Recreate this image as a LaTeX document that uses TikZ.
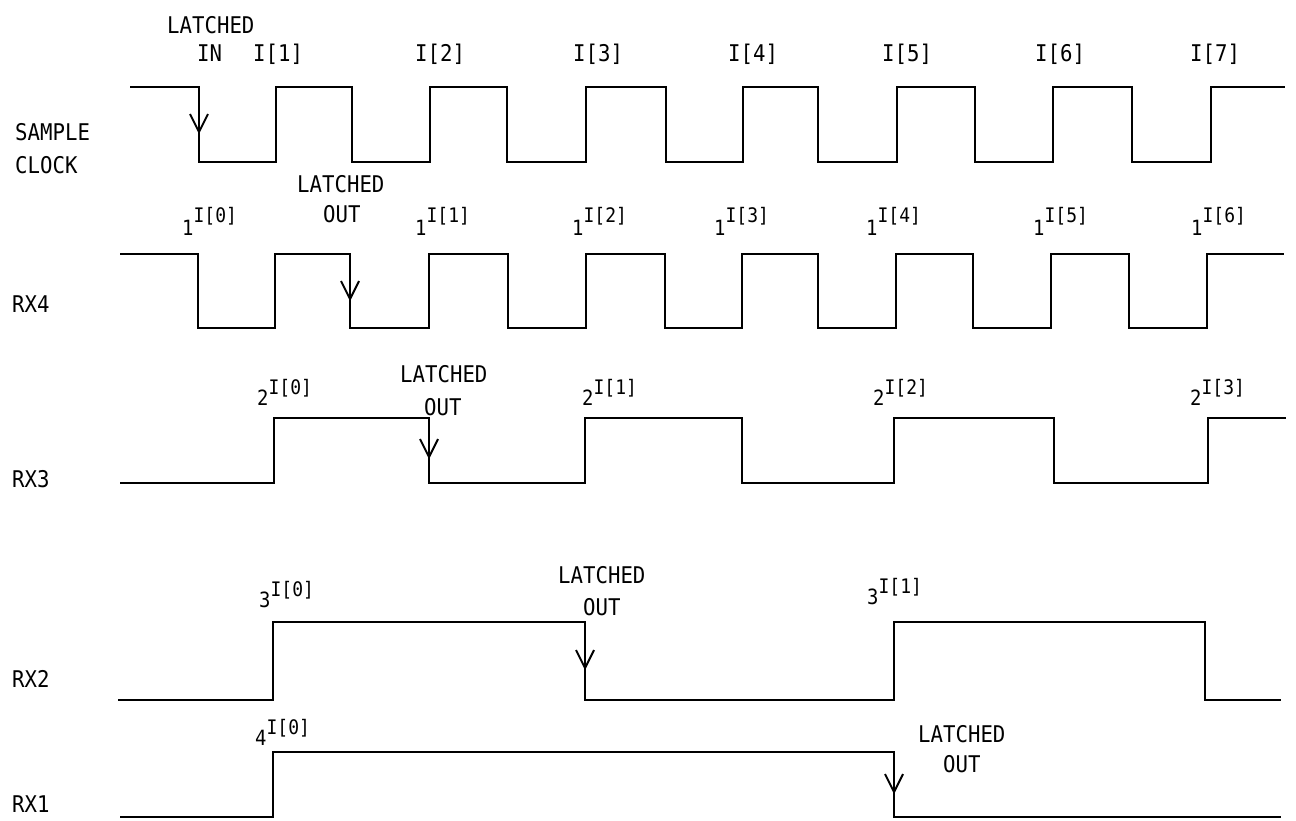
\documentclass[tikz,border=0pt]{standalone}
\usepackage{fontspec}
\setmainfont{DejaVu Sans Mono}[FakeStretch=0.9]
\newcommand\mysup[3][11pt]{#2\raisebox{#1}{\fontsize{20}{20}\selectfont #3}}
\begin{document}
\begin{tikzpicture}[x=1pt,y=-1pt,
  wave/.style={line width=2.3pt, line join=miter},
  clk/.style={line width=2.8pt, line join=miter},
  barb/.style={line width=2pt},
  lbl/.style={anchor=base west, inner sep=0pt, font=\fontsize{23}{23}\selectfont},
  exl/.style={anchor=base west, inner sep=0pt, font=\fontsize{21}{21}\selectfont}]
\useasboundingbox (0,0) rectangle (1296,820);
\fill[white] (0,0) rectangle (1296,820);

% ---- signal names
\node[lbl] (nSample) at (15,140) {SAMPLE};
\node[lbl] (nClock)  at (15,173) {CLOCK};
\node[lbl] (nRX4) at (12,312) {RX4};
\node[lbl] (nRX3) at (12,487) {RX3};
\node[lbl] (nRX2) at (12,687) {RX2};
\node[lbl] (nRX1) at (12,812) {RX1};

% ---- sample clock
\draw[clk] (130,87) -- (199,87) -- (199,162) -- (276,162) -- (276,87) -- (352,87) -- (352,162)
  -- (430,162) -- (430,87) -- (507,87) -- (507,162) -- (586,162) -- (586,87) -- (666,87) -- (666,162)
  -- (743,162) -- (743,87) -- (818,87) -- (818,162) -- (897,162) -- (897,87) -- (975,87) -- (975,162)
  -- (1053,162) -- (1053,87) -- (1132,87) -- (1132,162) -- (1211,162) -- (1211,87) -- (1285,87);
\draw[barb] (190,114) -- (199,132) -- (208,114);
\node[lbl] (cLat) at (167,33) {LATCHED};
\node[lbl] (cIn)  at (197,61) {IN};
\node[lbl] (c1) at (253,61) {I[1]};
\node[lbl] (c2) at (415,61) {I[2]};
\node[lbl] (c3) at (573,61) {I[3]};
\node[lbl] (c4) at (728,61) {I[4]};
\node[lbl] (c5) at (882,61) {I[5]};
\node[lbl] (c6) at (1035,61) {I[6]};
\node[lbl] (c7) at (1190,61) {I[7]};

% ---- RX4
\draw[wave] (120,254) -- (198,254) -- (198,328) -- (275,328) -- (275,254) -- (350,254) -- (350,328)
  -- (429,328) -- (429,254) -- (508,254) -- (508,328) -- (586,328) -- (586,254) -- (665,254) -- (665,328)
  -- (742,328) -- (742,254) -- (818,254) -- (818,328) -- (896,328) -- (896,254) -- (973,254) -- (973,328)
  -- (1051,328) -- (1051,254) -- (1129,254) -- (1129,328) -- (1207,328) -- (1207,254) -- (1284,254);
\draw[barb] (341,281) -- (350,299) -- (359,281);
\node[lbl] (r4Lat) at (297,192) {LATCHED};
\node[lbl] (r4Out) at (323,222) {OUT};
\node[exl] (r4a) at (182,235) {\mysup[13pt]{1}{I[0]}};
\node[exl] (r4b) at (415,235) {\mysup[13pt]{1}{I[1]}};
\node[exl] (r4c) at (572,235) {\mysup[13pt]{1}{I[2]}};
\node[exl] (r4d) at (714,235) {\mysup[13pt]{1}{I[3]}};
\node[exl] (r4e) at (866,235) {\mysup[13pt]{1}{I[4]}};
\node[exl] (r4f) at (1033,235) {\mysup[13pt]{1}{I[5]}};
\node[exl] (r4g) at (1191,235) {\mysup[13pt]{1}{I[6]}};

% ---- RX3
\draw[wave] (120,483) -- (274,483) -- (274,418) -- (429,418) -- (429,483) -- (585,483) -- (585,418)
  -- (742,418) -- (742,483) -- (894,483) -- (894,418) -- (1054,418) -- (1054,483) -- (1208,483)
  -- (1208,418) -- (1286,418);
\draw[barb] (420,439) -- (429,457) -- (438,439);
\node[lbl] (r3Lat) at (400,382) {LATCHED};
\node[lbl] (r3Out) at (424,415) {OUT};
\node[exl] (r3a) at (257,405) {\mysup{2}{I[0]}};
\node[exl] (r3b) at (582,405) {\mysup{2}{I[1]}};
\node[exl] (r3c) at (873,405) {\mysup{2}{I[2]}};
\node[exl] (r3d) at (1190,405) {\mysup{2}{I[3]}};

% ---- RX2
\draw[wave] (118,700) -- (273,700) -- (273,622) -- (585,622) -- (585,700) -- (894,700) -- (894,622)
  -- (1205,622) -- (1205,700) -- (1281,700);
\draw[barb] (576,650) -- (585,668) -- (594,650);
\node[lbl] (r2Lat) at (558,583) {LATCHED};
\node[lbl] (r2Out) at (583,615) {OUT};
\node[exl] (r2a) at (259,607) {\mysup{3}{I[0]}};
\node[exl] (r2b) at (867,604) {\mysup{3}{I[1]}};

% ---- RX1
\draw[wave] (120,817) -- (273,817) -- (273,752) -- (894,752) -- (894,817) -- (1281,817);
\draw[barb] (885,774) -- (894,792) -- (903,774);
\node[lbl] (r1Lat) at (918,742) {LATCHED};
\node[lbl] (r1Out) at (943,772) {OUT};
\node[exl] (r1a) at (255,745) {\mysup{4}{I[0]}};
\end{tikzpicture}
\end{document}
